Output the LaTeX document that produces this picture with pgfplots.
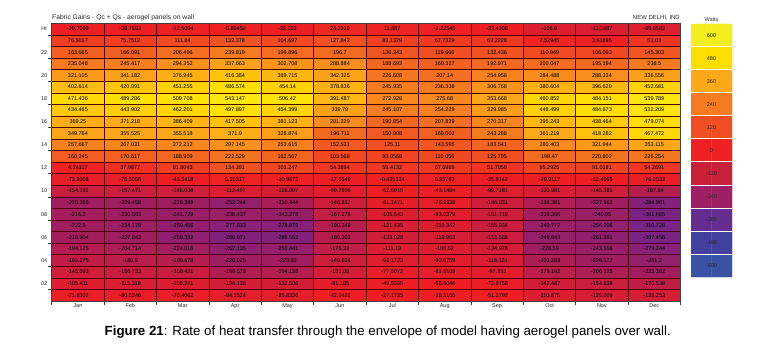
\documentclass[border=0pt]{standalone}
\usepackage{pgfplots}
\usepackage{pgfplotstable}
\usepackage{fontspec}
\setmainfont{Liberation Sans}
\pgfplotsset{compat=1.18}
\pgfplotsset{colormap={swatch}{
 rgb255=(57,83,164) rgb255=(66,64,158) rgb255=(102,45,145) rgb255=(158,31,99)
 rgb255=(201,32,58) rgb255=(238,32,36) rgb255=(240,78,35) rgb255=(244,123,32)
 rgb255=(251,169,25) rgb255=(255,222,0) rgb255=(245,238,30)}}
\pgfplotsset{colormap={heat}{
 rgb255(0pt)=(57,83,164) rgb255(24pt)=(66,64,158) rgb255(48pt)=(102,45,145)
 rgb255(60pt)=(125,35,130) rgb255(75pt)=(160,30,95) rgb255(90pt)=(205,30,60)
 rgb255(108pt)=(238,30,36) rgb255(120pt)=(238,32,36) rgb255(144pt)=(240,78,35)
 rgb255(168pt)=(244,123,32) rgb255(192pt)=(251,169,25) rgb255(216pt)=(255,222,0)
 rgb255(240pt)=(245,238,30)}}
\pgfplotstableread[row sep=\\]{
x y z\\
0 23 -29.7069\\ 1 23 -38.7593\\ 2 23 -12.5094\\ 3 23 -5.89454\\ 4 23 -39.322\\ 5 23 24.2319\\ 6 23 11.887\\ 7 23 -2.22545\\ 8 23 -23.4208\\ 9 23 -106.9\\ 10 23 -110.887\\ 11 23 -99.8583\\
0 22 76.5017\\ 1 22 75.7512\\ 2 22 111.84\\ 3 22 132.378\\ 4 22 104.697\\ 5 22 127.842\\ 6 22 83.1329\\ 7 22 67.7329\\ 8 22 63.2228\\ 9 22 7.52945\\ 10 22 3.61695\\ 11 22 51.03\\
0 21 163.665\\ 1 21 166.091\\ 2 21 206.496\\ 3 21 239.819\\ 4 21 199.896\\ 5 21 196.7\\ 6 21 136.343\\ 7 21 119.666\\ 8 21 132.436\\ 9 21 110.949\\ 10 21 106.093\\ 11 21 145.303\\
0 20 235.048\\ 1 20 245.417\\ 2 20 294.352\\ 3 20 337.663\\ 4 20 302.708\\ 5 20 288.884\\ 6 20 188.693\\ 7 20 169.327\\ 8 20 192.971\\ 9 20 200.047\\ 10 20 195.194\\ 11 20 238.5\\
0 19 321.105\\ 1 19 341.182\\ 2 19 376.945\\ 3 19 416.384\\ 4 19 389.715\\ 5 19 342.325\\ 6 19 226.608\\ 7 19 207.14\\ 8 19 254.958\\ 9 19 284.488\\ 10 19 288.334\\ 11 19 336.556\\
0 18 402.614\\ 1 18 420.091\\ 2 18 451.255\\ 3 18 486.574\\ 4 18 454.14\\ 5 18 378.836\\ 6 18 245.935\\ 7 18 236.338\\ 8 18 306.768\\ 9 18 380.604\\ 10 18 396.629\\ 11 18 452.681\\
0 17 471.436\\ 1 17 489.286\\ 2 17 509.708\\ 3 17 543.147\\ 4 17 506.42\\ 5 17 391.487\\ 6 17 272.928\\ 7 17 275.68\\ 8 17 353.668\\ 9 17 460.852\\ 10 17 484.151\\ 11 17 539.789\\
0 16 434.465\\ 1 16 443.902\\ 2 16 462.201\\ 3 16 497.897\\ 4 16 454.399\\ 5 16 339.79\\ 6 16 245.107\\ 7 16 254.229\\ 8 16 329.985\\ 9 16 448.499\\ 10 16 484.873\\ 11 16 532.209\\
0 15 369.25\\ 1 15 371.218\\ 2 15 386.409\\ 3 15 417.505\\ 4 15 381.123\\ 5 15 281.329\\ 6 15 190.854\\ 7 15 207.839\\ 8 15 270.317\\ 9 15 395.243\\ 10 15 438.464\\ 11 15 479.074\\
0 14 349.784\\ 1 14 355.525\\ 2 14 355.518\\ 3 14 371.9\\ 4 14 328.874\\ 5 14 196.711\\ 6 14 150.908\\ 7 14 169.002\\ 8 14 243.288\\ 9 14 361.219\\ 10 14 418.282\\ 11 14 467.472\\
0 13 257.667\\ 1 13 267.031\\ 2 13 272.212\\ 3 13 297.145\\ 4 13 253.615\\ 5 13 152.531\\ 6 13 125.11\\ 7 13 143.595\\ 8 13 183.541\\ 9 13 280.403\\ 10 13 321.944\\ 11 13 353.115\\
0 12 160.245\\ 1 12 170.617\\ 2 12 188.909\\ 3 12 222.529\\ 4 12 182.567\\ 5 12 103.568\\ 6 12 93.0568\\ 7 12 110.056\\ 8 12 125.795\\ 9 12 198.47\\ 10 12 220.802\\ 11 12 226.254\\
0 11 4.24117\\ 1 11 37.9877\\ 2 11 81.8043\\ 3 11 134.391\\ 4 11 101.247\\ 5 11 54.3894\\ 6 11 59.4132\\ 7 11 67.6989\\ 8 11 51.7059\\ 9 11 95.2925\\ 10 11 91.0181\\ 11 11 54.2691\\
0 10 -73.9008\\ 1 10 -75.5056\\ 2 10 -48.5418\\ 3 10 5.20317\\ 4 10 -10.9873\\ 5 10 -17.5549\\ 6 10 -0.435324\\ 7 10 5.95793\\ 8 10 -35.8142\\ 9 10 -29.9117\\ 10 10 -52.4095\\ 11 10 -76.2533\\
0 9 -154.191\\ 1 9 -157.471\\ 2 9 -146.038\\ 3 9 -112.457\\ 4 9 -128.897\\ 5 9 -89.2926\\ 6 9 -52.6915\\ 7 9 -43.1484\\ 8 9 -99.7181\\ 9 9 -120.981\\ 10 9 -145.381\\ 11 9 -187.84\\
0 8 -225.355\\ 1 8 -229.458\\ 2 8 -228.389\\ 3 8 -252.244\\ 4 8 -210.444\\ 5 8 -146.817\\ 6 8 -81.1471\\ 7 8 -76.9338\\ 8 8 -146.831\\ 9 8 -198.381\\ 10 8 -227.963\\ 11 8 -284.961\\
0 7 -216.2\\ 1 7 -230.593\\ 2 7 -241.729\\ 3 7 -238.437\\ 4 7 -243.278\\ 5 7 -167.278\\ 6 7 -105.643\\ 7 7 -93.0379\\ 8 7 -151.719\\ 9 7 -219.366\\ 10 7 -240.95\\ 11 7 -301.665\\
0 6 -222.5\\ 1 6 -234.178\\ 2 6 -259.456\\ 3 6 -277.833\\ 4 6 -278.878\\ 5 6 -190.349\\ 6 6 -121.435\\ 7 6 -110.342\\ 8 6 -155.934\\ 9 6 -240.772\\ 10 6 -256.206\\ 11 6 -310.728\\
0 5 -218.904\\ 1 5 -227.843\\ 2 5 -259.382\\ 3 5 -286.971\\ 4 5 -285.552\\ 5 5 -189.303\\ 6 5 -133.028\\ 7 5 -119.963\\ 8 5 -153.588\\ 9 5 -249.843\\ 10 5 -261.391\\ 11 5 -307.456\\
0 4 -194.125\\ 1 4 -204.714\\ 2 4 -224.016\\ 3 4 -262.135\\ 4 4 -250.441\\ 5 4 -175.33\\ 6 4 -111.13\\ 7 4 -106.52\\ 8 4 -134.978\\ 9 4 -228.59\\ 10 4 -243.556\\ 11 4 -279.244\\
0 3 -169.275\\ 1 3 -180.9\\ 2 3 -189.678\\ 3 3 -226.025\\ 4 3 -223.93\\ 5 3 -149.636\\ 6 3 -92.1723\\ 7 3 -92.6759\\ 8 3 -118.324\\ 9 3 -203.288\\ 10 3 -226.177\\ 11 3 -251.2\\
0 2 -145.593\\ 1 2 -156.733\\ 2 2 -159.421\\ 3 2 -199.578\\ 4 2 -194.138\\ 5 2 -131.08\\ 6 2 -77.5072\\ 7 2 -81.9108\\ 8 2 -97.353\\ 9 2 -179.192\\ 10 2 -206.125\\ 11 2 -223.382\\
0 1 -105.411\\ 1 1 -115.318\\ 2 1 -109.341\\ 3 1 -134.138\\ 4 1 -132.506\\ 5 1 -81.185\\ 6 1 -49.5595\\ 7 1 -58.6046\\ 8 1 -72.8758\\ 9 1 -142.487\\ 10 1 -154.838\\ 11 1 -170.538\\
0 0 -71.8302\\ 1 0 -80.0346\\ 2 0 -70.4062\\ 3 0 -84.5524\\ 4 0 -85.8336\\ 5 0 -42.2422\\ 6 0 -27.1735\\ 7 0 -38.3155\\ 8 0 -51.3792\\ 9 0 -110.875\\ 10 0 -129.009\\ 11 0 -128.253\\
}\heat
\pgfplotstableread[row sep=\\]{
x y z\\
0 10 600\\ 1 10 600\\ 0 9 480\\ 1 9 480\\ 0 8 360\\ 1 8 360\\ 0 7 240\\ 1 7 240\\ 0 6 120\\ 1 6 120\\ 0 5 0\\ 1 5 0\\
0 4 -120\\ 1 4 -120\\ 0 3 -240\\ 1 3 -240\\ 0 2 -360\\ 1 2 -360\\ 0 1 -480\\ 1 1 -480\\ 0 0 -600\\ 1 0 -600\\
}\cbar
\pgfplotstableread[row sep=\\]{
x y z\\
0.5 10 600\\ 0.5 9 480\\ 0.5 8 360\\ 0.5 7 240\\ 0.5 6 120\\ 0.5 5 0\\ 0.5 4 -120\\ 0.5 3 -240\\ 0.5 2 -360\\ 0.5 1 -480\\ 0.5 0 -600\\
}\cbarlab
\definecolor{axgray}{gray}{0.25}
\begin{document}
\begin{tikzpicture}[x=1bp,y=1bp]
\path[use as bounding box,fill=white] (0,0) rectangle (769,351);
\begin{axis}[
  name=main, at={(51.7bp,50bp)}, anchor=south west,
  scale only axis, width=628.8bp, height=277.7bp,
  xmin=-0.5, xmax=11.5, ymin=-0.5, ymax=23.5,
  colormap name=heat, point meta min=-600, point meta max=600,
  axis on top, tick pos=left, tick align=outside,
  axis line style={color=axgray,line width=0.7bp},
  xtick={0,1,...,11},
  xticklabels={Jan,Feb,Mar,Apr,May,Jun,Jul,Aug,Sep,Oct,Nov,Dec},
  ytick={23,21,19,17,15,13,11,9,7,5,3,1},
  yticklabels={Hr,22,20,18,16,14,12,10,08,06,04,02},
  major tick length=0pt, minor tick length=0pt,
  minor xtick={-0.5,0.5,...,11.5},
  minor ytick={-0.5,0.5,...,23.5},
  xminorgrids=true, yminorgrids=true,
  minor grid style={color=black!60!red!80!black,line width=0.45bp},
  extra x ticks={-0.5,0.5,...,11.5}, extra x tick labels={},
  extra y ticks={0.5,2.5,...,22.5}, extra y tick labels={},
  extra tick style={major tick length=3.5bp,tick style={color=axgray,line width=0.5bp}},
  tick label style={font=\fontsize{5.5}{6}\selectfont,text=black!85},
  xticklabel style={yshift=0.5bp},
  yticklabel style={xshift=-1bp},
]
\addplot[matrix plot*, mesh/cols=12, point meta=explicit] table[x=x,y=y,meta=z] {\heat};
\addplot[only marks, mark=none, point meta=explicit symbolic, nodes near coords,
  nodes near coords align={center},
  nodes near coords style={font=\fontsize{5.5}{6}\selectfont,text=black,inner sep=0pt,anchor=center}]
  table[x=x,y=y,meta=z] {\heat};
\end{axis}
\begin{axis}[
  at={(691bp,74bp)}, anchor=south west,
  scale only axis, width=41bp, height=253bp,
  xmin=-0.5, xmax=1.5, ymin=-0.5, ymax=10.5,
  colormap name=swatch, point meta min=-600, point meta max=600,
  axis on top, axis line style={draw=none},
  xtick=\empty, ytick={0.5,1.5,...,9.5}, yticklabels={},
  major tick length=0pt, ymajorgrids=true,
  major grid style={color=white,line width=1bp},
]
\addplot[matrix plot*, mesh/cols=2, point meta=explicit] table[x=x,y=y,meta=z] {\cbar};
\addplot[only marks, mark=none, point meta=explicit symbolic, nodes near coords,
  nodes near coords align={center},
  nodes near coords style={font=\fontsize{5.5}{6}\selectfont,text=black!85,inner sep=0pt,anchor=center}]
  table[x=x,y=y,meta=z] {\cbarlab};
\end{axis}
\node[anchor=base west,inner sep=0pt,font=\fontsize{6.75}{8}\selectfont,text=black!85] at (52,331.5) {Fabric Gains - Qc + Qs - aerogel panels on wall};
\node[anchor=base east,inner sep=0pt,font=\fontsize{6}{7}\selectfont,text=black!85] at (680,331.5) {NEW DELHI, IND};
\node[anchor=base,inner sep=0pt,font=\fontsize{5.5}{6}\selectfont,text=black!80] at (711.5,330) {Watts};
\node[anchor=base west,inner sep=0pt,font=\fontsize{13.35}{15}\selectfont,text=black] at (104.5,15.5) {\textbf{Figure 21}: Rate of heat transfer through the envelope of model having aerogel panels over wall.};
\end{tikzpicture}
\end{document}
